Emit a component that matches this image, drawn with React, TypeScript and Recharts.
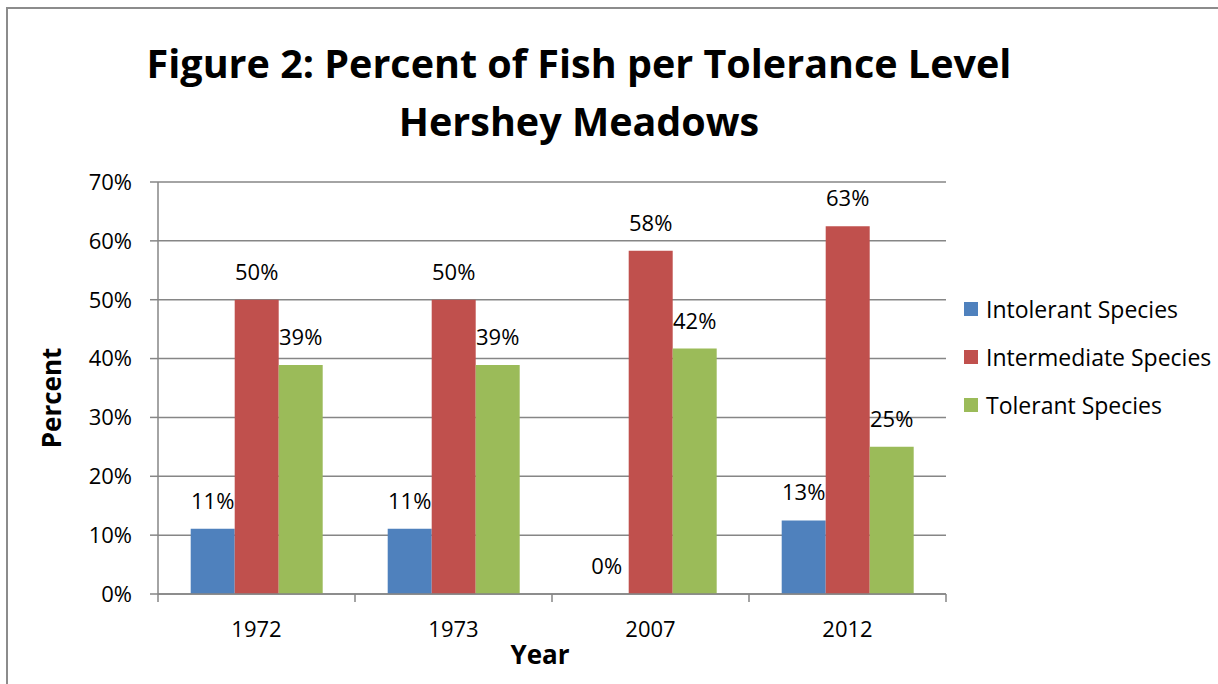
import { BarChart, Bar, XAxis, YAxis, CartesianGrid, LabelList } from 'recharts';

const years = ['1972', '1973', '2007', '2012'];
const intolerant = [11.1, 11.1, 0, 12.5];
const intermediate = [50, 50, 58.3, 62.5];
const tolerant = [38.9, 38.9, 41.7, 25];
const yTicks = [0, 10, 20, 30, 40, 50, 60, 70];

const SERIES = [
  { key: 'intolerant', name: 'Intolerant Species', color: '#4f81bd' },
  { key: 'intermediate', name: 'Intermediate Species', color: '#c0504d' },
  { key: 'tolerant', name: 'Tolerant Species', color: '#9bbb59' },
];

const FONT = '"Open Sans", sans-serif';
const GRID = '#868686';

const data = years.map((year, i) => ({
  year,
  intolerant: intolerant[i],
  intermediate: intermediate[i],
  tolerant: tolerant[i],
}));

// category labels plus tick marks on the band edges
const YearTick = (props: any) => {
  const { x, y, payload, index, visibleTicksCount } = props;
  const half = payload?.offset ?? 0;
  return (
    <g>
      {half > 0 && <line x1={x - half} x2={x - half} y1={y} y2={y + 8} stroke={GRID} strokeWidth={1.5} />}
      {half > 0 && index === visibleTicksCount - 1 && (
        <line x1={x + half} x2={x + half} y1={y} y2={y + 8} stroke={GRID} strokeWidth={1.5} />
      )}
      <text x={x} y={y + 43} textAnchor="middle" fill="#000" fontSize={22} fontFamily={FONT}>
        {payload.value}
      </text>
    </g>
  );
};

const ValueLabel = (props: any) => {
  const { x, y, width, value } = props;
  if (value == null) return null;
  return (
    <text x={x + width / 2} y={y - 20} textAnchor="middle" fill="#000" fontSize={22} fontFamily={FONT}>
      {`${Math.round(value)}%`}
    </text>
  );
};

const LegendBox = () => (
  <div style={{ position: 'absolute', left: 964, top: 285, fontFamily: FONT }}>
    {SERIES.map((s) => (
      <div key={s.key} style={{ display: 'flex', alignItems: 'center', height: 48, lineHeight: '30px', fontSize: 23, color: '#000', whiteSpace: 'nowrap' }}>
        <span style={{ width: 14, height: 14, background: s.color, display: 'inline-block', marginRight: 8 }} />
        {s.name}
      </div>
    ))}
  </div>
);

export default function App() {
  return (
    <div style={{ position: 'absolute', left: 0, top: 0, width: 1218, height: 684, background: '#fff', overflow: 'hidden' }}>
      <div
        style={{
          position: 'absolute',
          left: 6,
          top: 7,
          width: 1230,
          height: 700,
          borderLeft: '2px solid #8c8c8c',
          borderTop: '2px solid #8c8c8c',
        }}
      />
      <div
        style={{
          position: 'absolute',
          left: 0,
          top: 34,
          width: 1158,
          textAlign: 'center',
          fontFamily: FONT,
          fontWeight: 700,
          fontSize: 39.5,
          lineHeight: '58px',
          color: '#000',
        }}
      >
        Figure 2: Percent of Fish per Tolerance Level
        <br />
        Hershey Meadows
      </div>
      <div
        style={{
          position: 'absolute',
          left: 51,
          top: 398,
          transform: 'translate(-50%, -50%) rotate(-90deg)',
          fontFamily: FONT,
          fontWeight: 700,
          fontSize: 26,
          whiteSpace: 'nowrap',
        }}
      >
        Percent
      </div>
      <div
        style={{
          position: 'absolute',
          left: 540,
          top: 654,
          transform: 'translate(-50%, -50%)',
          fontFamily: FONT,
          fontWeight: 700,
          fontSize: 26,
        }}
      >
        Year
      </div>
      <div style={{ position: 'absolute', left: 0, top: 0 }}>
        <BarChart
          width={1218}
          height={684}
          data={data}
          margin={{ top: 182, right: 272, bottom: 0, left: 58 }}
          barCategoryGap="16.6%"
          barGap={0}
        >
          <CartesianGrid vertical={false} stroke={GRID} strokeWidth={1.5} />
          <XAxis
            dataKey="year"
            height={90}
            axisLine={{ stroke: GRID, strokeWidth: 1.5 }}
            tickLine={false}
            tickSize={0}
            tickMargin={0}
            tick={<YearTick />}
            interval={0}
          />
          <YAxis
            width={100}
            domain={[0, 70]}
            ticks={yTicks}
            interval={0}
            tickFormatter={(v) => `${v}%`}
            axisLine={{ stroke: GRID, strokeWidth: 1.5 }}
            tickLine={{ stroke: GRID, strokeWidth: 1.5 }}
            tickSize={8}
            tickMargin={18}
            tick={{ fill: '#000', fontSize: 22, fontFamily: FONT }}
          />
          {SERIES.map((s) => (
            <Bar
              key={s.key}
              dataKey={s.key}
              name={s.name}
              fill={s.color}
              minPointSize={(v: number) => (v === 0 ? 0.01 : 0)}
              isAnimationActive={false}
            >
              <LabelList dataKey={s.key} content={<ValueLabel />} />
            </Bar>
          ))}
        </BarChart>
      </div>
      <LegendBox />
    </div>
  );
}
